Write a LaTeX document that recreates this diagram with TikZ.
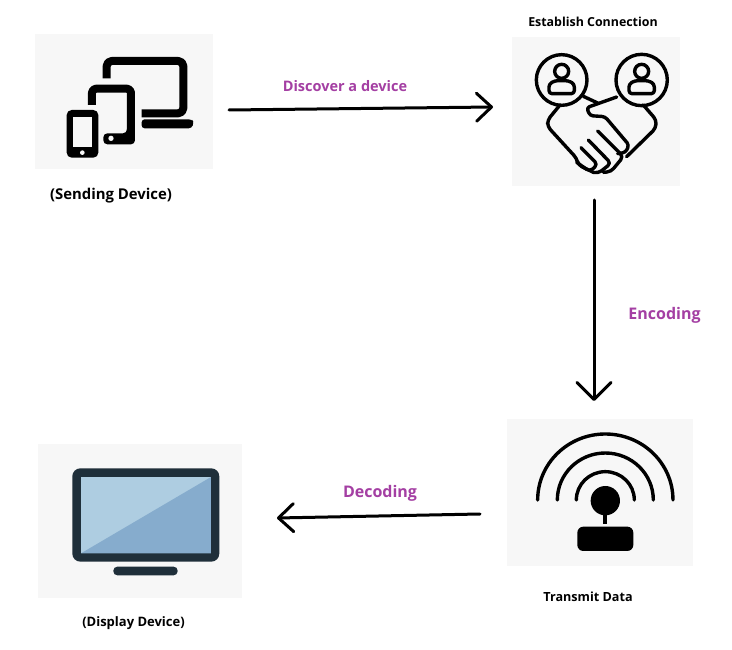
\documentclass[tikz,border=0pt]{standalone}
\usepackage{fontspec}
\setmainfont{Open Sans}
\usetikzlibrary{arrows.meta}
\definecolor{panelgrey}{HTML}{F7F7F7}
\definecolor{flowlabel}{HTML}{A43FA3}
\definecolor{tvframe}{HTML}{1F2F3A}
\definecolor{tvlight}{HTML}{AECDE1}
\definecolor{tvdark}{HTML}{86ACCD}
\tikzset{
  panel/.style={fill=panelgrey,draw=none,inner sep=0pt,minimum width=#1},
  caption/.style={font=\bfseries\fontsize{#1}{16}\selectfont,text=black,inner sep=0pt},
  flowtext/.style={font=\bfseries\fontsize{#1}{18}\selectfont,text=flowlabel,inner sep=0pt},
  flow/.style={line width=3pt,line cap=round,black,
    -{Straight Barb[length=15pt,width=28pt,line width=3pt,round]}},
  wide flow/.style={line width=3pt,line cap=round,black,
    -{Straight Barb[length=17pt,width=34pt,line width=3pt,round]}},
  zoomed/.style={shift={#1},x=0.3333pt,y=-0.3333pt},
  ink/.style={line width=3.4pt,line cap=round,line join=round,black},
  thick ink/.style={line width=8pt,line join=round,black},
}
\begin{document}
\begin{tikzpicture}[x=1pt,y=-1pt]
\useasboundingbox (0,0) rectangle (732,650);
\fill[white] (0,0) rectangle (732,650);

% Grey backing panels
\node[panel=178pt,minimum height=135pt] (sending) at (124,101.5) {};
\node[panel=168pt,minimum height=149pt] (connect) at (596,111.5) {};
\node[panel=186pt,minimum height=147pt] (transmit) at (600,492.5) {};
\node[panel=204pt,minimum height=154pt] (display) at (140,521) {};

% Phone, tablet and laptop
\begin{scope}[zoomed={(30,25)}]
  \draw[thick ink,rounded corners=5pt] (230,160) -- (230,108) -- (460,108) -- (460,265) -- (335,265);
  \fill[rounded corners=3pt] (335,283) -- (485,283) -- (492,292) -- (485,310) -- (335,310) -- cycle;
  \draw[thick ink,rounded corners=4pt] (186,240) -- (186,191) -- (303,191) -- (303,335);
  \fill[rounded corners=4pt] (220,325) -- (291,325) -- (291,300) -- (315,300) -- (315,358) -- (220,358) -- cycle;
  \fill[panelgrey] (243,340) circle (8);
  \fill[rounded corners=5pt] (110,255) rectangle (205,398);
  \fill[panelgrey] (130,275) rectangle (185,365);
  \fill[panelgrey] (157,383) circle (7);
\end{scope}

% Two people joined by a handshake
\begin{scope}[zoomed={(505,10)}]
  \draw[ink] (170,210) circle (76);
  \draw[ink] (410,210) circle (77);
  \draw[ink] (170,184) circle (21);
  \draw[ink] (410,184) circle (21);
  \draw[ink,rounded corners=3pt] (132,251) -- (132,222) -- (150,212) -- (190,212) -- (208,222) -- (208,251) -- cycle;
  \draw[ink,rounded corners=3pt] (372,251) -- (372,222) -- (390,212) -- (430,212) -- (448,222) -- (448,251) -- cycle;
\end{scope}
\begin{scope}[zoomed={(535,75)}]
  \draw[ink] (145,64) -- (188,84);
  \draw[ink,rounded corners=4pt] (75,90) -- (38,135) -- (38,155) -- (125,250) -- (130,270) -- (175,292);
  \draw[ink,rounded corners=4pt] (325,90) -- (364,135) -- (362,160) -- (275,245);
  \draw[ink,rounded corners=3pt] (245,66) -- (155,98) -- (165,122) -- (210,125) -- (282,210) -- (272,232) -- (248,236);
  \draw[ink,rounded corners=4pt] (188,168) -- (265,245) -- (228,290) -- (205,292);
  \draw[ink,rounded corners=4pt] (160,195) -- (228,265) -- (190,295) -- (175,292);
  \draw[ink,rounded corners=4pt] (138,218) -- (188,268) -- (165,290) -- (125,262);
\end{scope}

% Transmitter with radio waves
\begin{scope}[zoomed={(500,410)}]
  \draw[ink] (113,270) arc[start angle=180,end angle=360,x radius=203,y radius=198];
  \draw[ink] (172,270) arc[start angle=180,end angle=360,x radius=144,y radius=141];
  \draw[ink] (229,270) arc[start angle=180,end angle=360,x radius=87,y radius=85];
  \fill (316,272) circle (44);
  \fill (310,310) rectangle (322,342);
  \fill[rounded corners=6pt] (232,350) rectangle (400,423);
\end{scope}

% Display
\begin{scope}[zoomed={(30,440)}]
  \fill[tvframe,rounded corners=8pt] (127,85) rectangle (568,365);
  \fill[tvlight] (153,111) rectangle (543,340);
  \fill[tvdark] (153,340) -- (543,111) -- (543,340) -- cycle;
  \fill[tvframe,rounded corners=4pt] (250,380) rectangle (443,406);
\end{scope}

% Captions
\node[caption=14.9] (sendcap) at (111,195.5) {(Sending Device)};
\node[caption=12.4] (conncap) at (593,22) {Establish Connection};
\node[caption=12.6] (transcap) at (588,597) {Transmit Data};
\node[caption=13] (dispcap) at (133.5,623) {(Display Device)};

% Step labels
\node[flowtext=14.5] (discover) at (345,86.5) {Discover a device};
\node[flowtext=16] (encoding) at (664.5,315.5) {Encoding};
\node[flowtext=16] (decoding) at (380,493.5) {Decoding};

% Connector ends
\coordinate (a1) at (229,110);
\coordinate (a2) at (493,107);
\coordinate (b1) at (594,200);
\coordinate (b2) at (594,401);
\coordinate (c1) at (480,514);
\coordinate (c2) at (277,518);
\draw[flow] (a1) -- (a2);
\draw[wide flow] (b1) -- (b2);
\draw[flow] (c1) -- (c2);
\end{tikzpicture}
\end{document}
